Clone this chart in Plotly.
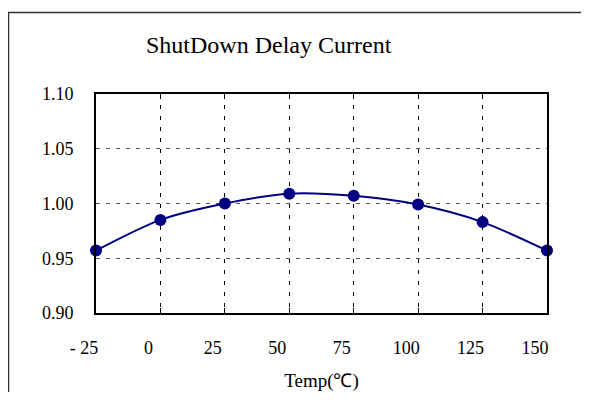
import plotly.graph_objects as go

temps = [-25, 0, 25, 50, 75, 100, 125, 150]
current = [0.957, 0.985, 1.000, 1.009, 1.007, 0.999, 0.983, 0.957]
x_ticks = [-25, 0, 25, 50, 75, 100, 125, 150]
y_ticks = [0.90, 0.95, 1.00, 1.05, 1.10]

# page has an 8px body margin, so the figure is drawn smaller and offset
OFF = 8
W, H = 589 - 2 * OFF, 400 - 2 * OFF
L, T = 96 - OFF, 94 - OFF
R = W - (547 - OFF)
B = H - (313 - OFF)
pw, ph = W - L - R, H - T - B

def px_x(p):
    return (p - OFF - L) / pw

def px_y(p):
    return (H - B - (p - OFF)) / ph

fig = go.Figure()
fig.add_trace(go.Scatter(
    x=temps, y=current, mode="lines+markers",
    line=dict(color="#000080", width=2, shape="spline", smoothing=0.8),
    marker=dict(color="#000080", size=12),
    showlegend=False, cliponaxis=False,
))

font = "Liberation Serif"
fig.update_layout(
    width=W, height=H,
    margin=dict(l=L, r=R, t=T, b=B, autoexpand=False),
    paper_bgcolor="white", plot_bgcolor="white",
    font=dict(family=font, color="black", size=18),
    xaxis=dict(
        range=[-25, 150], tickvals=x_ticks, ticktext=[("- 25" if v < 0 else str(v)) for v in x_ticks],
        showgrid=True, gridcolor="black", griddash="4px,7px", gridwidth=1,
        showline=True, linecolor="black", linewidth=2, mirror="ticks",
        ticks="inside", ticklen=5, tickcolor="black",
        ticklabelshift=-12, ticklabelstandoff=17,
        zeroline=False, automargin=False,
        title=dict(text="Temp(℃)", font=dict(size=19, family=font), standoff=17),
    ),
    yaxis=dict(
        range=[0.90, 1.10], tickvals=y_ticks, ticktext=[f"{v:.2f}" for v in y_ticks],
        showgrid=True, gridcolor="#555", griddash="4px,6px", gridwidth=1,
        showline=True, linecolor="black", linewidth=2, mirror=True,
        ticks="", ticklabelstandoff=17,
        zeroline=False, automargin=False,
    ),
    annotations=[dict(
        text="ShutDown Delay Current", xref="paper", yref="paper",
        x=px_x(269), y=px_y(45), xanchor="center", yanchor="middle",
        showarrow=False, font=dict(size=24, family=font),
    )],
    shapes=[dict(
        type="rect", xref="paper", yref="paper",
        x0=px_x(8.5), x1=px_x(640), y0=px_y(12.5), y1=px_y(440),
        line=dict(color="#333", width=1.5), layer="below",
    )],
)

fig.write_html("out.html")
